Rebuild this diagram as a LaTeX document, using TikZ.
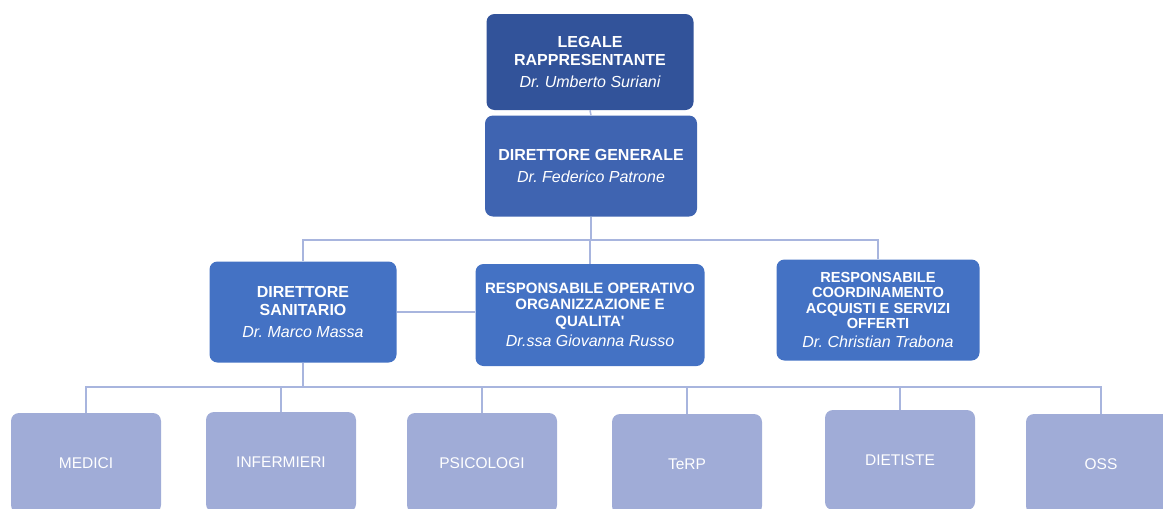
\documentclass[tikz,border=0pt]{standalone}
\usepackage{fontspec}
\setmainfont{Liberation Sans}
\frenchspacing
\definecolor{legalblue}{HTML}{32539A}
\definecolor{genblue}{HTML}{3F64B1}
\definecolor{dirblue}{HTML}{4472C4}
\definecolor{staffblue}{HTML}{A0ACD7}
\definecolor{linkblue}{HTML}{A8B5DE}
\tikzset{
  orgbox/.style={rounded corners=8pt, align=center, text=white, inner sep=2pt,
    font=\fontsize{16}{18}\selectfont},
  headbox/.style={orgbox, font=\bfseries\fontsize{16}{18}\selectfont},
  staffbox/.style={orgbox, fill=staffblue, minimum width=150pt, minimum height=100pt,
    font=\fontsize{15.5}{18}\selectfont},
  link/.style={draw=linkblue, line width=2.7pt}
}
\newcommand{\who}[1]{\\[4pt]\mdseries\itshape #1}
\begin{document}
\begin{tikzpicture}[x=1pt, y=-1pt]
      \useasboundingbox (0,0) rectangle (1163,509);

      % vertici
      \node[headbox, fill=legalblue, minimum width=207pt, minimum height=96pt]
        (leg) at (590,62) {LEGALE\\RAPPRESENTANTE\who{Dr. Umberto Suriani}};
      \node[headbox, fill=genblue, minimum width=212pt, minimum height=101pt]
        (dg) at (591,166) {DIRETTORE GENERALE\who{Dr. Federico Patrone}};

      % direzione
      \node[headbox, fill=dirblue, minimum width=187pt, minimum height=101pt]
        (ds) at (303,312) {DIRETTORE\\SANITARIO\who{Dr. Marco Massa}};
      \node[headbox, fill=dirblue, minimum width=229pt, minimum height=102pt,
        font=\bfseries\fontsize{15}{16.5}\selectfont]
        (rq) at (590,315) {RESPONSABILE OPERATIVO\\ORGANIZZAZIONE E\\QUALITA\textquotesingle\who{\fontsize{16}{18}\selectfont Dr.ssa Giovanna Russo}};
      \node[headbox, fill=dirblue, minimum width=203pt, minimum height=101pt,
        font=\bfseries\fontsize{14.6}{15.4}\selectfont]
        (ra) at (878,310) {RESPONSABILE\\COORDINAMENTO\\ACQUISTI E SERVIZI\\OFFERTI\who{\fontsize{16}{18}\selectfont Dr. Christian Trabona}};

      % collegamenti in alto
      \coordinate (bus1) at (591,240);
      \draw[link, line width=1.5pt] (leg.south) -- (dg.north);
      \draw[link] (dg.south) -- (bus1);
      \draw[link] (ds.north) |- (bus1);
      \draw[link] (ra.north) |- (bus1);
      \draw[link] (rq.north) -- (rq.north |- bus1);
      \draw[link] (ds.east) -- (ds.east -| rq.west);

      % personale
      \coordinate (bus2) at (303,387);
      \draw[link] (ds.south) -- (bus2);
      \foreach \id / \x / \y / \lab in {
        med/86/463/MEDICI,
        inf/281/462/INFERMIERI,
        psi/482/463/PSICOLOGI,
        terp/687/464/TeRP,
        die/900/460/DIETISTE,
        oss/1101/464/OSS} {
        \node[staffbox] (\id) at (\x,\y) {\lab};
        \draw[link] (\id.north) |- (bus2);
      }
    \end{tikzpicture}
\end{document}
